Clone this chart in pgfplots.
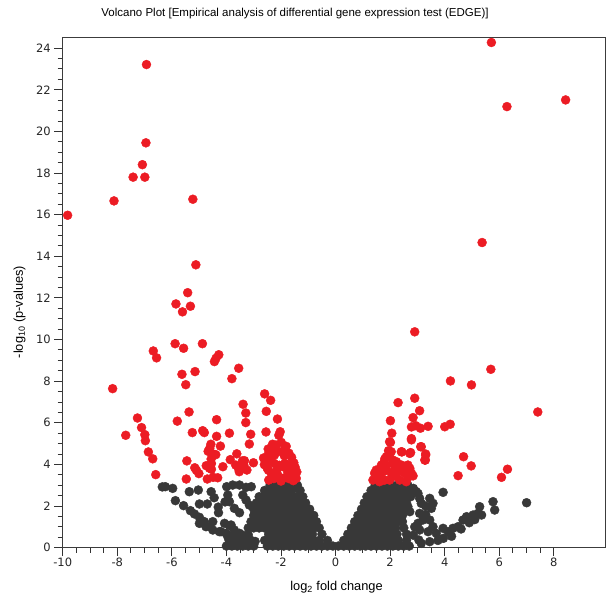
\documentclass[border=0pt]{standalone}
\usepackage{fontspec}
\setmainfont{Liberation Sans}
\newfontfamily\ticfont{DejaVu Sans}
\usepackage{pgfplots}
\pgfplotsset{compat=1.18}

\definecolor{dotgray}{RGB}{56,56,56}
\definecolor{dotred}{RGB}{236,28,36}
\definecolor{framegray}{RGB}{60,60,60}

\begin{document}
\begin{tikzpicture}
\begin{axis}[
    name=ax,
    at={(0,0)}, anchor=south west,
    scale only axis,
    width=543.3pt, height=510pt,
    xmin=-10, xmax=9.91,
    ymin=0, ymax=24.5,
    axis line style={framegray, line width=1.1pt},
    tick style={black!80, line width=0.9pt},
    tick align=outside,
    major tick length=8.5pt,
    minor tick length=5pt,
    xtick pos=bottom, ytick pos=left,
    xtick={-10,-8,-6,-4,-2,0,2,4,6,8},
    xticklabels={-10,-8,-6,-4,-2,0,2,4,6,8},
    ytick={0,2,4,6,8,10,12,14,16,18,20,22,24},
    yticklabels={0,2,4,6,8,10,12,14,16,18,20,22,24},
    minor x tick num=3,
    minor y tick num=3,
    tick label style={font=\ticfont\fontsize{11.5}{13}\selectfont, text=black!85},
    xticklabel style={yshift=2pt},
    title={Volcano Plot [Empirical analysis of differential gene expression test (EDGE)]},
    title style={at={(0.4276,1.0357)}, anchor=center, yshift=0pt, font=\fontsize{11.5}{13}\selectfont},
    xlabel={log\textsubscript{2} fold change},
    xlabel style={at={(0.504,-0.077)}, anchor=center, font=\fontsize{12.8}{14}\selectfont},
    ylabel={-log\textsubscript{10} (p-values)},
    ylabel style={at={(-0.0795,0.462)}, anchor=center, font=\fontsize{12.8}{14}\selectfont},
    every axis plot/.append style={only marks, mark=*, mark size=4.5pt},
]

% non-significant genes: dense core of the two wings
\addplot[dotgray, mark options={fill=dotgray, draw=dotgray}] coordinates {
(-2.4,3.0) (-2.2,3.0) (-2.0,3.0) (-1.8,3.0) (-1.6,3.0) (-1.4,3.0)
(-2.6,2.75) (-2.4,2.75) (-2.2,2.75) (-2.0,2.75) (-1.8,2.75) (-1.6,2.75) (-1.3,2.75)
(-2.8,2.45) (-2.6,2.45) (-2.4,2.45) (-2.2,2.45) (-2.0,2.45) (-1.8,2.45) (-1.6,2.45) (-1.4,2.45) (-1.2,2.45)
(-2.9,2.15) (-2.7,2.15) (-2.5,2.15) (-2.3,2.15) (-2.1,2.15) (-1.9,2.15) (-1.7,2.15) (-1.5,2.15) (-1.3,2.15) (-1.1,2.15)
(-3.0,1.85) (-2.8,1.85) (-2.6,1.85) (-2.4,1.85) (-2.2,1.85) (-2.0,1.85) (-1.8,1.85) (-1.6,1.85) (-1.4,1.85) (-1.2,1.85) (-0.95,1.85)
(-3.0,1.55) (-2.8,1.55) (-2.6,1.55) (-2.4,1.55) (-2.2,1.55) (-2.0,1.55) (-1.8,1.55) (-1.6,1.55) (-1.4,1.55) (-1.2,1.55) (-1.0,1.55) (-0.8,1.55)
(-3.1,1.25) (-2.9,1.25) (-2.7,1.25) (-2.5,1.25) (-2.3,1.25) (-2.1,1.25) (-1.9,1.25) (-1.7,1.25) (-1.5,1.25) (-1.3,1.25) (-1.1,1.25) (-0.9,1.25) (-0.7,1.25)
(-3.2,0.95) (-3.0,0.95) (-2.8,0.95) (-2.6,0.95) (-2.4,0.95) (-2.2,0.95) (-2.0,0.95) (-1.8,0.95) (-1.6,0.95) (-1.4,0.95) (-1.2,0.95) (-1.0,0.95) (-0.8,0.95) (-0.6,0.95)
(-2.45,0.65) (-2.25,0.65) (-2.05,0.65) (-1.85,0.65) (-1.65,0.65) (-1.45,0.65) (-1.25,0.65) (-1.05,0.65) (-0.85,0.65) (-0.5,0.65)
(-2.6,0.35) (-2.4,0.35) (-2.2,0.35) (-2.0,0.35) (-1.8,0.35) (-1.6,0.35) (-1.4,0.35) (-1.2,0.35) (-1.0,0.35) (-0.8,0.35) (-0.6,0.35) (-0.3,0.35)
(-2.5,0.08) (-2.3,0.08) (-2.1,0.08) (-1.9,0.08) (-1.7,0.08) (-1.5,0.08) (-1.3,0.08) (-1.1,0.08) (-0.9,0.08) (-0.7,0.08) (-0.5,0.08) (-0.3,0.08) (-0.1,0.08)
(-3.8,0.60) (-3.6,0.60) (-3.4,0.60) (-3.2,0.62)
(-3.9,0.35) (-3.7,0.35) (-3.5,0.35) (-3.3,0.35) (-3.1,0.35)
(-4.0,0.08) (-3.8,0.08) (-3.6,0.08) (-3.4,0.08) (-3.2,0.08) (-3.0,0.08)
(1.45,3.0) (1.65,3.0) (1.85,3.0) (2.05,3.0) (2.25,3.0) (2.45,3.0) (2.65,3.0)
(1.3,2.75) (1.5,2.75) (1.7,2.75) (1.9,2.75) (2.1,2.75) (2.3,2.75) (2.5,2.75) (2.75,2.75)
(1.15,2.45) (1.35,2.45) (1.55,2.45) (1.75,2.45) (1.95,2.45) (2.15,2.45) (2.35,2.45) (2.55,2.45) (2.75,2.45)
(1.05,2.15) (1.25,2.15) (1.45,2.15) (1.65,2.15) (1.85,2.15) (2.05,2.15) (2.25,2.15) (2.45,2.15) (2.6,2.15)
(0.95,1.85) (1.15,1.85) (1.35,1.85) (1.55,1.85) (1.75,1.85) (1.95,1.85) (2.15,1.85) (2.35,1.85) (2.55,1.85)
(0.82,1.55) (1.0,1.55) (1.2,1.55) (1.4,1.55) (1.6,1.55) (1.8,1.55) (2.0,1.55) (2.2,1.55) (2.45,1.55)
(0.7,1.25) (0.9,1.25) (1.1,1.25) (1.3,1.25) (1.5,1.25) (1.7,1.25) (1.9,1.25) (2.1,1.25) (2.3,1.25) (2.45,1.25)
(0.58,0.95) (0.8,0.95) (1.0,0.95) (1.2,0.95) (1.4,0.95) (1.6,0.95) (1.8,0.95) (2.0,0.95) (2.2,0.95) (2.5,0.95)
(0.45,0.65) (0.65,0.65) (0.85,0.65) (1.05,0.65) (1.25,0.65) (1.45,0.65) (1.65,0.65) (1.85,0.65) (2.05,0.65) (2.25,0.65) (2.6,0.65)
(0.3,0.35) (0.5,0.35) (0.7,0.35) (0.9,0.35) (1.1,0.35) (1.3,0.35) (1.5,0.35) (1.7,0.35) (1.9,0.35) (2.1,0.35) (2.3,0.35) (2.6,0.35)
(0.1,0.08) (0.3,0.08) (0.5,0.08) (0.7,0.08) (0.9,0.08) (1.1,0.08) (1.3,0.08) (1.5,0.08) (1.7,0.08) (1.9,0.08) (2.1,0.08) (2.3,0.08) (2.5,0.08) (2.7,0.08)
};

% non-significant genes: scattered tails
\addplot[dotgray, mark options={fill=dotgray, draw=dotgray}] coordinates {
(-6.35,2.92) (-6.24,2.93) (-5.97,2.85) (-5.87,2.26) (-5.57,2.02) (-5.36,2.69)
(-5.03,2.77) (-4.99,2.10) (-5.32,1.78) (-5.17,1.62) (-4.99,1.46) (-4.81,1.25)
(-4.60,1.01) (-4.50,1.25) (-4.29,1.68) (-4.56,2.69) (-4.07,1.17) (-3.89,1.06)
(-3.71,0.85) (-3.52,0.69) (-3.34,0.53) (-3.16,0.37) (-4.20,0.77) (-3.95,0.53)
(-3.80,0.35) (-3.64,0.21) (-3.99,2.93) (-3.77,3.01) (-3.52,3.01) (-3.28,2.90)
(-3.09,2.93) (-3.95,2.53) (-3.89,2.21) (-3.71,1.89) (-3.52,1.68) (-3.40,2.53)
(-3.28,2.29) (-3.16,2.05) (-4.70,2.10) (-4.45,2.40) (-4.30,1.95) (-4.05,2.20)
(-4.99,1.17) (-4.75,1.01) (-4.50,0.85) (-4.26,0.77) (-4.01,0.69) (-3.83,1.09)
(-2.95,0.30) (-3.05,0.15)
(3.94,2.66) (3.45,2.37) (3.57,2.13) (3.51,1.89) (3.02,2.61) (3.08,2.37)
(3.14,2.13) (2.65,1.97) (2.72,1.73) (3.08,1.65) (3.20,1.33) (3.02,1.17)
(3.08,0.85) (3.05,0.37) (3.14,0.21) (3.45,1.33) (3.57,1.01) (3.39,0.77)
(3.45,0.29) (3.69,0.69) (3.94,0.93) (4.12,0.77) (4.30,0.93) (4.49,1.01)
(4.67,1.33) (4.80,1.49) (5.04,1.57) (5.22,1.65) (5.28,1.97) (5.35,1.57)
(5.77,2.21) (5.83,1.81) (7.00,2.16) (3.75,0.35) (3.95,0.45) (4.25,0.55)
(4.60,0.90) (4.90,1.20) (5.10,1.35) (2.85,2.85) (2.95,2.70) (3.30,2.00)
(3.30,1.60) (2.90,1.00) (2.85,0.60)
};

% significant genes
\addplot[dotred, mark options={fill=dotred, draw=dotred}] coordinates {
(-9.82,15.97) (-6.93,23.21) (-6.95,19.45) (-7.08,18.40) (-7.42,17.80) (-6.99,17.80)
(-8.12,16.66) (-5.23,16.74) (-5.12,13.59) (-5.42,12.25) (-5.85,11.71) (-5.32,11.60)
(-5.61,11.33) (-6.68,9.45) (-6.56,9.12) (-5.88,9.80) (-5.57,9.58) (-4.88,9.80)
(-4.28,9.27) (-4.38,9.10) (-4.44,8.94) (-5.63,8.33) (-5.15,8.46) (-5.49,7.83)
(-3.80,8.12) (-3.55,8.62) (-8.17,7.64) (-5.37,6.52) (-5.80,6.08) (-4.36,6.15)
(-7.26,6.23) (-7.11,5.77) (-7.69,5.40) (-6.99,5.43) (-6.97,5.14) (-6.86,4.60)
(-6.70,4.27) (-6.59,3.51) (-5.25,5.53) (-4.87,5.62) (-4.81,5.53) (-4.36,5.35)
(-3.89,5.50) (-4.57,4.97) (-4.22,4.88) (-4.61,4.78) (-4.67,4.63) (-4.52,4.52)
(-4.39,4.47) (-4.56,4.26) (-4.55,4.04) (-3.62,4.51) (-3.86,4.23) (-5.45,4.17)
(-4.74,3.94) (-4.62,3.82) (-4.55,3.77) (-5.16,3.84) (-5.10,3.72) (-5.47,3.30)
(-5.01,3.56) (-4.70,3.30) (-4.49,3.38) (-4.32,3.36) (-4.13,3.89) (-3.66,3.97)
(-3.57,3.84) (-3.50,3.77) (-3.53,3.65) (-3.41,4.17) (-3.34,4.18) (-3.36,3.96)
(-3.25,3.73) (-3.01,4.08) (-2.60,7.39) (-2.38,7.08) (-3.39,6.89) (-3.29,6.47)
(-2.54,6.55) (-3.29,6.01) (-2.13,6.18) (-3.11,5.45) (-2.55,5.56) (-2.03,5.57)
(-2.08,5.40) (-3.16,4.98) (-2.31,4.97) (-2.18,4.93) (-2.28,4.76) (-2.47,4.74)
(-1.81,4.87) (-2.46,4.50) (-2.09,4.63) (-1.99,5.06) (-1.87,4.70) (-2.64,4.31)
(-2.61,3.99) (-2.51,3.83) (-2.41,4.17) (-2.46,3.72) (-2.36,3.58) (-1.71,4.54)
(-1.61,4.34) (-1.53,4.08) (-1.48,3.86) (-1.42,3.64) (-1.69,3.97) (-1.87,3.86)
(-1.75,3.60) (-1.56,3.46) (-1.44,3.33) (-1.71,3.32) (-1.93,3.33) (-2.13,3.53)
(-2.26,3.32) (-2.06,3.96) (-2.24,4.45) (-1.88,4.42) (-2.25,4.05) (-1.86,4.05)
(-2.00,3.20) (-1.55,3.22) (-2.45,3.25) (-2.15,3.75) (-1.60,3.70)
(5.71,24.27) (6.28,21.19) (8.43,21.51) (5.37,14.66) (2.90,10.37) (5.69,8.57)
(7.41,6.52) (4.21,8.01) (4.98,7.82) (2.29,6.97) (2.90,7.18) (3.08,6.58)
(2.84,6.25) (2.01,6.10) (2.78,5.80) (2.94,5.86) (3.11,5.74) (3.39,5.83)
(4.00,5.81) (4.20,5.93) (2.06,5.50) (2.01,5.06) (2.78,5.24) (3.12,4.85)
(1.94,4.66) (1.96,4.45) (2.43,4.60) (2.75,4.57) (3.30,4.50) (3.29,4.21)
(4.69,4.37) (4.97,3.93) (6.30,3.77) (6.08,3.38) (4.49,3.46) (1.80,4.26)
(1.76,4.05) (1.86,3.97) (2.10,4.05) (2.23,4.13) (2.35,3.97) (2.41,3.73)
(2.65,3.97) (2.72,3.81) (2.84,3.45) (2.65,3.38) (1.86,3.73) (1.49,3.73)
(1.43,3.58) (1.61,3.41) (1.37,3.25) (2.04,3.58) (2.23,3.41) (2.53,3.58)
(1.98,3.25) (1.74,3.25) (1.98,5.09) (2.04,4.61) (1.86,4.37) (1.74,3.65)
(1.55,3.58) (1.61,3.17) (1.80,3.25) (2.17,3.81) (2.29,3.65) (2.41,3.97)
(2.41,4.61) (2.72,4.53) (2.78,3.58) (2.35,3.25) (3.14,4.85) (3.30,4.45)
(3.27,4.21) (2.78,5.18) (1.68,3.97) (2.10,4.21) (2.53,3.73) (2.59,3.17)
};
\end{axis}
\pgfresetboundingbox
\path[use as bounding box] (-62.7pt,-46.3pt) rectangle (543.3pt,547.7pt);
\end{tikzpicture}
\end{document}
